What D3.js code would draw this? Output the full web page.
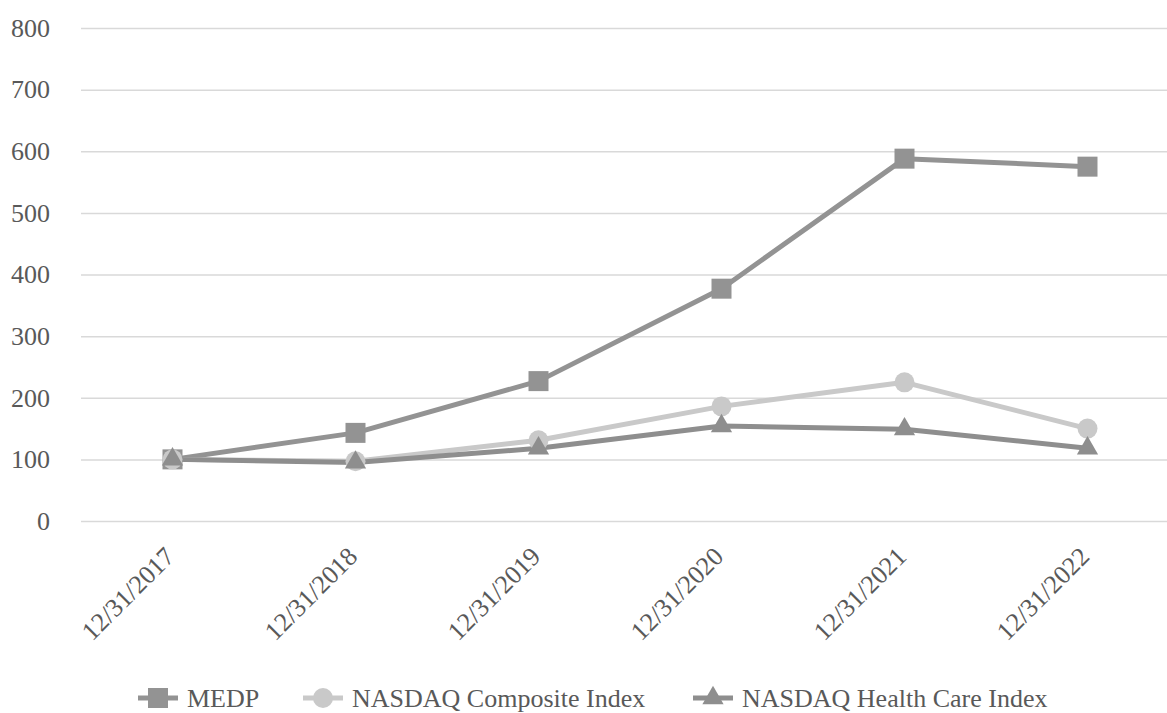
<!DOCTYPE html>
<html>
<head>
<meta charset="utf-8">
<script src="https://cdn.jsdelivr.net/npm/d3@7"></script>
<style>
  body { margin: 0; background: #fff; }
</style>
</head>
<body>
<svg id="chart"></svg>
<script>
// Chart data
const dates = ['12/31/2017', '12/31/2018', '12/31/2019', '12/31/2020', '12/31/2021', '12/31/2022'];
const medp = [100, 143, 227, 377, 588, 575];
const composite = [100, 97, 131, 186, 225, 150];
const healthCare = [100, 95, 118, 154, 149, 118];
const yTicks = [0, 100, 200, 300, 400, 500, 600, 700, 800];

const seriesNames = ['MEDP', 'NASDAQ Composite Index', 'NASDAQ Health Care Index'];
const seriesValues = [medp, composite, healthCare];
const seriesColors = ['#939393', '#c9c9c9', '#8e8e8e'];
const seriesShapes = [d3.symbolSquare, d3.symbolCircle, d3.symbolTriangle];

// Canvas settings
const WIDTH = 1167;
const HEIGHT = 713;
const PLOT_LEFT = 81;
const PLOT_TOP = 28;
const PLOT_BOTTOM = 521;
const STEP = 183;
const FONT = '"Liberation Serif", "Times New Roman", serif';
const TEXT_COLOR = '#595959';

const svg = d3.select('svg#chart').attr('width', WIDTH).attr('height', HEIGHT);

const x = d3.scalePoint()
    .domain(dates)
    .range([PLOT_LEFT + STEP / 2, PLOT_LEFT + STEP * (dates.length - 0.5)]);

const y = d3.scaleLinear().domain([0, 800]).range([PLOT_BOTTOM, PLOT_TOP]);

// Gridlines + y labels
const yAxis = svg.append('g')
    .attr('transform', `translate(${PLOT_LEFT},0)`)
    .call(d3.axisLeft(y).tickValues(yTicks).tickSize(-(WIDTH - PLOT_LEFT)).tickPadding(31));
yAxis.attr('font-family', null).attr('font-size', null);
yAxis.select('.domain').remove();
yAxis.selectAll('.tick line').attr('stroke', '#d9d9d9').attr('stroke-width', 1.5);
yAxis.selectAll('.tick text')
    .style('font-family', FONT)
    .style('font-size', '26px')
    .attr('fill', TEXT_COLOR);

// x labels, rotated
const xAxis = svg.append('g')
    .attr('transform', `translate(0,${PLOT_BOTTOM})`)
    .call(d3.axisBottom(x).tickSize(0).tickPadding(0));
xAxis.attr('font-family', null).attr('font-size', null);
xAxis.select('.domain').remove();
xAxis.selectAll('.tick text')
    .style('font-family', FONT)
    .style('font-size', '26px')
    .attr('fill', TEXT_COLOR)
    .attr('text-anchor', 'end')
    .attr('dy', 0)
    .attr('y', 0)
    .attr('transform', 'translate(3,37) rotate(-45)');

// Lines and markers
const line = d3.line().x((d, i) => x(dates[i])).y(d => y(d));
const markerSizes = [400, 314, 195];

seriesValues.forEach((vals, s) => {
    svg.append('path')
        .datum(vals)
        .attr('d', line)
        .attr('fill', 'none')
        .attr('stroke', seriesColors[s])
        .attr('stroke-width', 5)
        .attr('stroke-linejoin', 'round');
});

seriesValues.forEach((vals, s) => {
    svg.append('g').selectAll('path')
        .data(vals)
        .join('path')
        .attr('d', d3.symbol().type(seriesShapes[s]).size(markerSizes[s]))
        .attr('transform', (d, i) => `translate(${x(dates[i])},${y(d)})`)
        .attr('fill', seriesColors[s]);
});

// Legend
const legendX = [138, 303, 693];
const legendY = 698;
const legend = svg.append('g');
seriesNames.forEach((name, s) => {
    const g = legend.append('g').attr('transform', `translate(${legendX[s]},${legendY})`);
    g.append('line')
        .attr('x1', 0).attr('x2', 40)
        .attr('stroke', seriesColors[s]).attr('stroke-width', 5);
    g.append('path')
        .attr('d', d3.symbol().type(seriesShapes[s]).size(markerSizes[s]))
        .attr('transform', 'translate(20,0)')
        .attr('fill', seriesColors[s]);
    g.append('text')
        .attr('x', 49)
        .attr('dy', '0.33em')
        .style('font-family', FONT)
        .style('font-size', '26px')
        .attr('fill', TEXT_COLOR)
        .text(name);
});
</script>
</body>
</html>
